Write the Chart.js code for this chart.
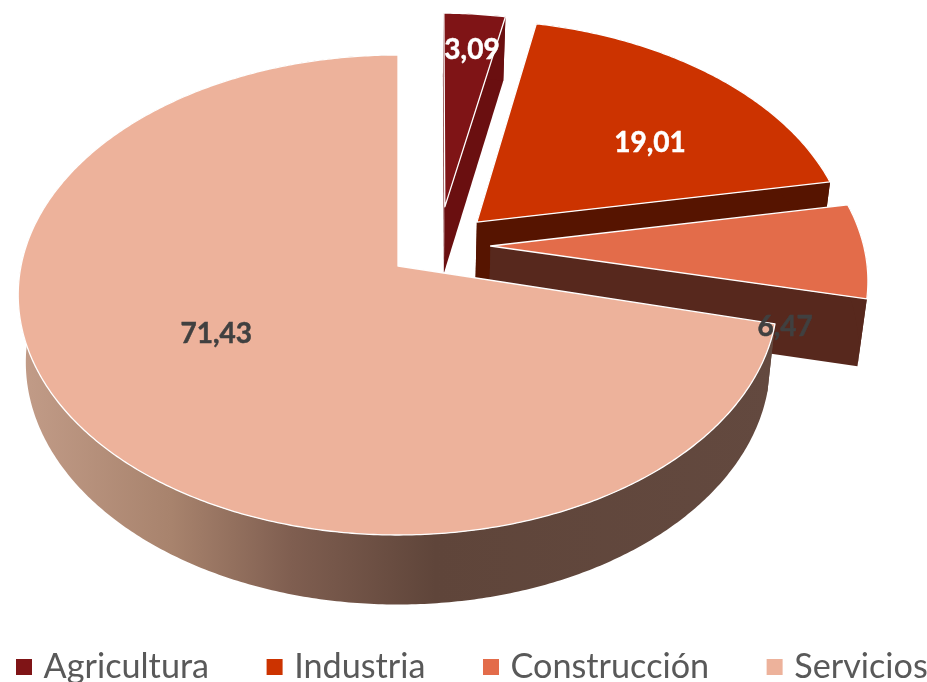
<!DOCTYPE html>
<html>
<head>
<meta charset="utf-8">
<style>html,body{margin:0;padding:0;background:#fff;overflow:hidden}#wrap{width:927px;height:682px}</style>
<script src="https://cdn.jsdelivr.net/npm/chart.js@4/dist/chart.umd.js"></script>
</head>
<body>
<div id="wrap"><canvas id="c" width="927" height="682"></canvas></div>
<script>
const categories = ['Agricultura', 'Industria', 'Construcción', 'Servicios'];
const shares = [3.09, 19.01, 6.47, 71.43];
const topColors = ['#7F1416', '#CC3300', '#E36C4A', '#EDB29B'];
const wallColors = ['#6A0F10', '#561400', '#57281D', null];
const labelColors = ['#FFFFFF', '#FFFFFF', '#404040', '#404040'];

// Perspective view of the pie plane (unit radius plane -> screen)
const view = {x0: 398, y0: 266, a: 236.5, b: 377, p: 0.1208, shrink: 0.98};
// Explosion of every slice, in units of the pie radius
const explode = [[0.128, -0.258], [0.214, -0.19], [0.248, -0.0854], [0, 0]];
const radiusScale = [0.97, 1, 1, 1];
const edgeTwist = [[0.012, 0.012], [0.012, 0], [0, 0], [0.016, 0]];
// Label anchors in plane units
const labelAnchors = [[0.2206, -1.027], [0.713, -0.555], [0.996, 0.25], [-0.466, 0.278]];
const legendOrigin = {x: 21.5, y: 649.9};

function project(u, v) {
  const w = 1 - view.p * v;
  return {x: view.x0 + view.b * u / w, y: view.y0 + view.a * v / w, d: 67 + 2.5 * v};
}
const lower = q => ({x: view.x0 + (q.x - view.x0) * view.shrink, y: q.y + q.d});

function outline(arc, i) {
  const p = arc.getProps(['startAngle', 'endAngle'], true);
  const s = p.startAngle + edgeTwist[i][0], e = p.endAngle + edgeTwist[i][1];
  const r = radiusScale[i], sh = explode[i];
  const steps = Math.max(8, Math.ceil((e - s) / 0.01));
  const rim = [];
  for (let k = 0; k <= steps; k++) {
    const t = s + (e - s) * k / steps;
    rim.push(project(sh[0] + r * Math.cos(t), sh[1] + r * Math.sin(t)));
  }
  return {apex: project(sh[0], sh[1]), rim};
}

function band(ctx, upper) {
  ctx.beginPath();
  upper.forEach((q, k) => k ? ctx.lineTo(q.x, q.y) : ctx.moveTo(q.x, q.y));
  for (let k = upper.length - 1; k >= 0; k--) {
    const b = lower(upper[k]);
    ctx.lineTo(b.x, b.y);
  }
  ctx.closePath();
  ctx.fill();
}

const pie3d = {
  id: 'pie3d',
  beforeLayout(chart) {
    const lg = chart.legend;
    if (!lg || lg.__wide) return;
    lg.__wide = true;
    // the reference legend runs edge to edge on one row
    const fit = lg._fitRows, draw = lg.draw;
    lg._fitRows = function (...a) {
      const m = this.maxWidth;
      this.maxWidth = 5000;
      const r = fit.apply(this, a);
      this.maxWidth = m;
      return r;
    };
    lg.draw = function () {
      const box = [this.left, this.right, this.top, this.bottom];
      const pad = this.options.labels.padding;
      this.left = legendOrigin.x - pad;
      this.right = 5000;
      this.top = legendOrigin.y - pad;
      this.bottom = 5000;
      draw.call(this);
      [this.left, this.right, this.top, this.bottom] = box;
    };
  },
  beforeDatasetDraw(chart, args) {
    const ctx = chart.ctx;
    ctx.save();
    args.meta.data.forEach((arc, i) => {
      const {apex, rim} = outline(arc, i);
      let wall = wallColors[i];
      if (!wall) {
        wall = ctx.createLinearGradient(20, 0, 775, 0);
        wall.addColorStop(0, '#C29C88');
        wall.addColorStop(0.2, '#A8836D');
        wall.addColorStop(0.36, '#7F5E50');
        wall.addColorStop(0.55, '#5F453A');
        wall.addColorStop(1, '#63493F');
      }
      ctx.fillStyle = wall;
      band(ctx, [apex, rim[0]]);
      band(ctx, [apex, rim[rim.length - 1]]);
      band(ctx, rim);
      ctx.beginPath();
      ctx.moveTo(apex.x, apex.y);
      rim.forEach(q => ctx.lineTo(q.x, q.y));
      ctx.closePath();
      ctx.fillStyle = arc.options.backgroundColor;
      ctx.fill();
      ctx.strokeStyle = '#FFFFFF';
      ctx.lineWidth = 1.3;
      ctx.lineJoin = 'round';
      ctx.stroke();
    });
    ctx.restore();
    return false;
  },
  afterDatasetsDraw(chart) {
    const ctx = chart.ctx;
    const values = chart.data.datasets[0].data;
    ctx.save();
    ctx.font = 'bold 28px Lato';
    ctx.textAlign = 'center';
    ctx.textBaseline = 'middle';
    ctx.lineWidth = 0.5;
    values.forEach((v, i) => {
      const q = project(labelAnchors[i][0], labelAnchors[i][1]);
      const text = v.toFixed(2).replace('.', ',');
      ctx.fillStyle = labelColors[i];
      ctx.strokeStyle = labelColors[i];
      ctx.fillText(text, q.x, q.y);
      ctx.strokeText(text, q.x, q.y);
    });
    ctx.restore();
  }
};

new Chart(document.getElementById('c'), {
  type: 'pie',
  data: {
    labels: categories,
    datasets: [{data: shares, backgroundColor: topColors, borderWidth: 0}]
  },
  plugins: [pie3d],
  options: {
    responsive: false,
    animation: false,
    plugins: {
      tooltip: {enabled: false},
      legend: {
        position: 'bottom',
        align: 'start',
        labels: {
          usePointStyle: true,
          pointStyle: 'rect',
          boxWidth: 5,
          boxHeight: 16,
          padding: 63,
          color: '#595959',
          font: {family: 'Lato', size: 34.2}
        }
      }
    }
  }
});
</script>
</body>
</html>
